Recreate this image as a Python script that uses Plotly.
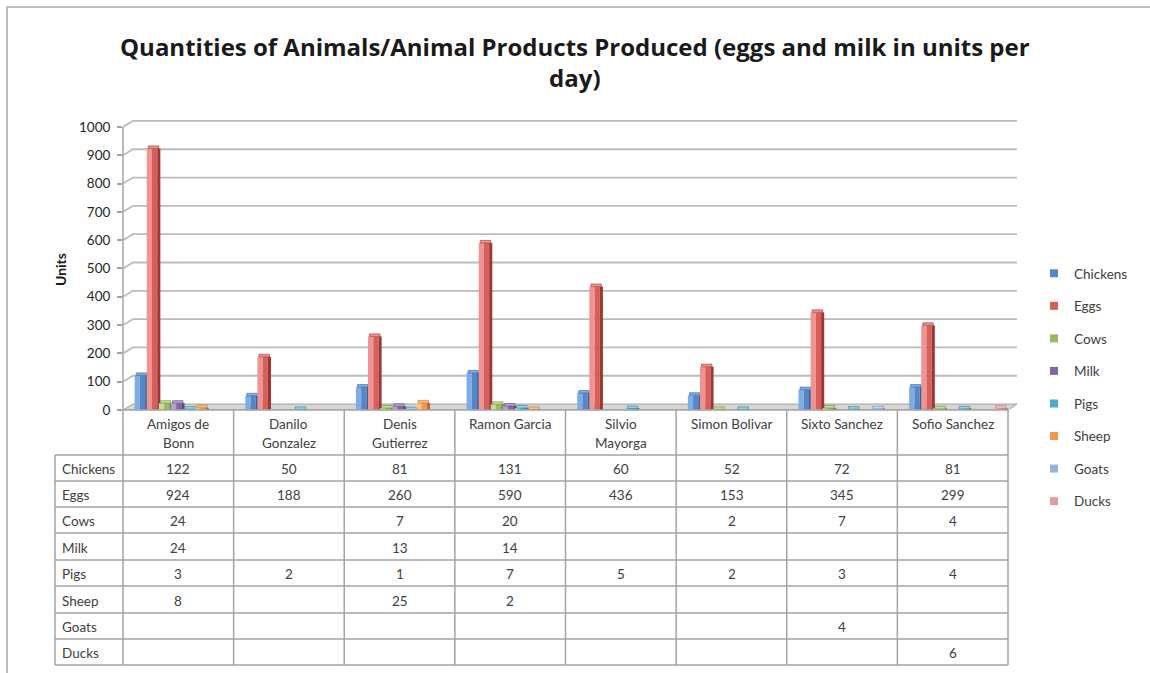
import plotly.graph_objects as go

# Farms / producers (column headers of the data table)
categories = ["Amigos de<br>Bonn", "Danilo<br>Gonzalez", "Denis<br>Gutierrez", "Ramon Garcia",
              "Silvio<br>Mayorga", "Simon Bolivar", "Sixto Sanchez", "Sofio Sanchez"]

# Series values per producer (None = empty cell)
chickens = [122, 50, 81, 131, 60, 52, 72, 81]
eggs = [924, 188, 260, 590, 436, 153, 345, 299]
cows = [24, None, 7, 20, None, 2, 7, 4]
milk = [24, None, 13, 14, None, None, None, None]
pigs = [3, 2, 1, 7, 5, 2, 3, 4]
sheep = [8, None, 25, 2, None, None, None, None]
goats = [None, None, None, None, None, None, 4, None]
ducks = [None, None, None, None, None, None, None, 6]

series_names = ["Chickens", "Eggs", "Cows", "Milk", "Pigs", "Sheep", "Goats", "Ducks"]
series_values = [chickens, eggs, cows, milk, pigs, sheep, goats, ducks]

y_ticks = list(range(0, 1001, 100))

# (light front, base front, dark side) shades per series
shades = {
    "Chickens": ("#7eade6", "#5586c6", "#3b6297"),
    "Eggs": ("#ee9593", "#d65f5c", "#a03633"),
    "Cows": ("#c5df92", "#9bbb59", "#738c3f"),
    "Milk": ("#b4a1d2", "#8266a6", "#5d4a7b"),
    "Pigs": ("#8fd4e7", "#4bacc6", "#327d92"),
    "Sheep": ("#fbc08a", "#f79646", "#be6f2c"),
    "Goats": ("#c8daf0", "#95b3d7", "#6b89ad"),
    "Ducks": ("#f3c6c5", "#e39a99", "#b56f6e"),
}

# ---- page geometry (pixels) ----
W, H = 1150, 673
PL, PR = 123, 1017       # plot area left / right
PT, PB = 117, 410        # plot area top / bottom
X_RANGE = [-0.5, 7.58]
Y_RANGE = [0, 1035]


def px_x(p):
    return (p - PL) / (PR - PL)


def px_y(p):
    return (PB - p) / (PB - PT)


TEXT = "#404040"
LINE = "#a3a3a3"
GRID = "#bcbcbc"
FONT = "Lato"

fig = go.Figure()

# 3D-styled columns: left highlight, right base tone, dark side face, light top cap
x_idx = list(range(len(categories)))
base_off, stride, front_w, side_w, cap_h = -0.395, 0.1095, 0.095, 0.028, 9
for i, (name, vals) in enumerate(zip(series_names, series_values)):
    light, mid, dark = shades[name]
    off = base_off + i * stride
    parts = [(off, front_w / 2, light), (off + front_w / 2, front_w / 2, mid),
             (off + front_w, side_w, dark)]
    for o, w, c in parts:
        fig.add_trace(go.Bar(
            x=x_idx, y=vals, offset=o, width=w,
            marker=dict(color=c, line=dict(width=0)),
            showlegend=False, hoverinfo="skip",
        ))
    fig.add_trace(go.Bar(
        x=x_idx, y=[cap_h if v is not None else None for v in vals],
        base=[v if v is not None else 0 for v in vals],
        offset=off + side_w * 0.5, width=front_w,
        marker=dict(color=light, line=dict(color=dark, width=0.6)),
        showlegend=False, hoverinfo="skip",
    ))
    # legend entry
    fig.add_trace(go.Scatter(
        x=[None], y=[None], mode="markers", name=name, legendgroup=name,
        marker=dict(symbol="square", size=8, color=mid),
    ))

shapes = []

# floor slab
shapes.append(dict(
    type="path", xref="x", yref="y", layer="below",
    path="M -0.5,0 L -0.41,21 L 7.58,21 L 7.5,0 Z",
    fillcolor="#d6d6d6", line=dict(color=LINE, width=1),
))
# back-wall gridlines with a short perspective run from the axis
for v in y_ticks[1:]:
    shapes.append(dict(
        type="path", xref="x", yref="y", layer="below",
        path=f"M -0.5,{v} L -0.41,{v + 21} L 7.58,{v + 21}",
        line=dict(color=GRID, width=1.8),
    ))
# value axis line
shapes.append(dict(type="line", xref="paper", yref="paper",
                   x0=0, x1=0, y0=0, y1=px_y(127), line=dict(color=LINE, width=1.5)))

# ---- data table ----
row_edges = [455, 481, 507, 533, 560, 586, 613, 639, 665]
col_px = [PL + (k) * (1008 - PL) / 8 for k in range(9)]
label_left = 55

# horizontal rules
shapes.append(dict(type="line", xref="paper", yref="paper",
                   x0=px_x(PL), x1=px_x(1008), y0=px_y(410), y1=px_y(410),
                   line=dict(color=LINE, width=1.5)))
for r in row_edges:
    shapes.append(dict(type="line", xref="paper", yref="paper",
                       x0=px_x(label_left), x1=px_x(1008), y0=px_y(r), y1=px_y(r),
                       line=dict(color=LINE, width=1.5)))
# vertical rules
shapes.append(dict(type="line", xref="paper", yref="paper",
                   x0=px_x(label_left), x1=px_x(label_left),
                   y0=px_y(row_edges[0]), y1=px_y(row_edges[-1]),
                   line=dict(color=LINE, width=1.5)))
for cx in col_px:
    shapes.append(dict(type="line", xref="paper", yref="paper",
                       x0=px_x(cx), x1=px_x(cx), y0=px_y(410), y1=px_y(row_edges[-1]),
                       line=dict(color=LINE, width=1.5)))
# chart-area frame
shapes.append(dict(type="rect", xref="paper", yref="paper",
                   x0=px_x(7), x1=px_x(1300), y0=px_y(900), y1=px_y(7),
                   line=dict(color="#a8a8a8", width=1.5), fillcolor="rgba(0,0,0,0)"))

annotations = []
# chart title
annotations.append(dict(
    x=px_x(575), xref="paper", y=px_y(28), yref="paper",
    text="<b>Quantities of Animals/Animal Products Produced (eggs and milk in units per<br>day)</b>",
    showarrow=False, xanchor="center", yanchor="top", align="center",
    font=dict(family="Open Sans", size=24, color="#1a1a1a"),
))
# column headers
for k, cat in enumerate(categories):
    for j, line in enumerate(cat.split("<br>")):
        annotations.append(dict(
            x=k, xref="x", y=px_y(424 + 19 * j), yref="paper",
            text=line, showarrow=False, xanchor="center", yanchor="middle",
            font=dict(family=FONT, size=13.5, color=TEXT),
        ))
# row labels and cell values
for r, (name, vals) in enumerate(zip(series_names, series_values)):
    cy = (row_edges[r] + row_edges[r + 1]) / 2 + 1
    annotations.append(dict(
        x=px_x(label_left + 5), xref="paper", y=px_y(cy), yref="paper",
        text=name, showarrow=False, xanchor="left", yanchor="middle",
        font=dict(family=FONT, size=13.5, color=TEXT),
    ))
    for k, v in enumerate(vals):
        if v is None:
            continue
        annotations.append(dict(
            x=k, xref="x", y=px_y(cy), yref="paper",
            text=str(v), showarrow=False, xanchor="center", yanchor="middle",
            font=dict(family=FONT, size=13.5, color=TEXT),
        ))
# value axis title
annotations.append(dict(
    x=px_x(60), xref="paper", y=px_y(270), yref="paper",
    text="<b>Units</b>", textangle=-90, showarrow=False,
    xanchor="center", yanchor="middle",
    font=dict(family=FONT, size=14, color="#1a1a1a"),
))

fig.update_layout(
    width=W, height=H,
    margin=dict(l=PL, r=W - PR, t=PT, b=H - PB, pad=0),
    paper_bgcolor="white", plot_bgcolor="rgba(0,0,0,0)",
    barmode="overlay",
    xaxis=dict(range=X_RANGE, showticklabels=False, showgrid=False, zeroline=False,
               showline=False, ticks="", fixedrange=True),
    yaxis=dict(range=Y_RANGE, tickvals=y_ticks, ticks="outside", ticklen=5,
               tickcolor=LINE, tickwidth=1.5, showgrid=False, zeroline=False,
               showline=False, ticklabelstandoff=4,
               tickfont=dict(family=FONT, size=13.5, color="#262626")),
    legend=dict(
        x=px_x(1034), xanchor="left", y=px_y(258), yanchor="top",
        font=dict(family=FONT, size=13.5, color=TEXT),
        tracegroupgap=12, bgcolor="rgba(0,0,0,0)", itemclick=False,
    ),
    shapes=shapes,
    annotations=annotations,
    font=dict(family=FONT),
)

fig.write_html("out.html")
